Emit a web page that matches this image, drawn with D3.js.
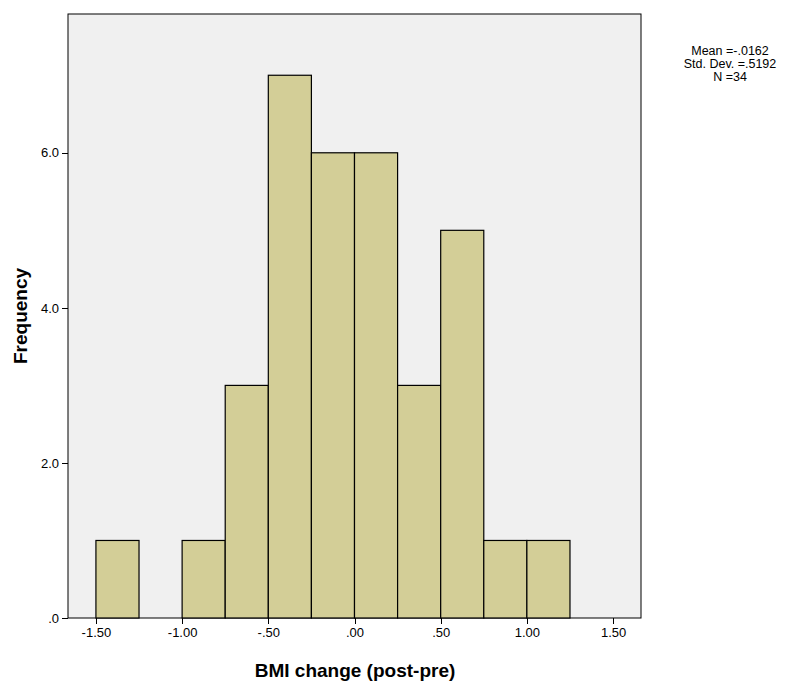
<!DOCTYPE html>
<meta charset="utf-8">
<style>
body { margin: 0; background: #fff; font-family: Arial, "Liberation Sans", sans-serif; }
.axis path, .axis line { fill: none; stroke: #000; shape-rendering: crispEdges; }
.axis text { font-size: 13px; fill: #000; }
</style>
<body>
<script src="https://d3js.org/d3.v7.min.js"></script>
<script>
// bin lower edges and counts
var binStarts = [-1.50, -1.25, -1.00, -0.75, -0.50, -0.25, 0.00, 0.25, 0.50, 0.75, 1.00];
var counts    = [1, 0, 1, 3, 7, 6, 6, 3, 5, 1, 1];
var binWidth = 0.25;
var xTicks = [-1.5, -1.0, -0.5, 0, 0.5, 1.0, 1.5];
var xTickLabels = ["-1.50", "-1.00", "-.50", ".00", ".50", "1.00", "1.50"];
var yTicks = [0, 2, 4, 6];
var yTickLabels = [".0", "2.0", "4.0", "6.0"];
var statsText = ["Mean =-.0162", "Std. Dev. =.5192", "N =34"];

var W = 804, H = 681;
var pL = 68, pR = 641, pT = 14, pB = 618;

var svg = d3.select("body").append("svg").attr("width", W).attr("height", H);

var x = d3.scaleLinear().domain([-1.662, 1.662]).range([pL, pR]);
var y = d3.scaleLinear().domain([0, 7.79]).range([pB, pT]);

svg.append("rect").attr("x", pL).attr("y", pT)
    .attr("width", pR - pL).attr("height", pB - pT)
    .attr("fill", "#f0f0f0").attr("stroke", "#000");

var bins = binStarts.map(function (d, i) { return {x0: d, n: counts[i]}; })
    .filter(function (b) { return b.n > 0; });

svg.selectAll(".bar").data(bins).enter().append("rect")
    .attr("x", function (d) { return x(d.x0); })
    .attr("width", function (d) { return x(d.x0 + binWidth) - x(d.x0); })
    .attr("y", function (d) { return y(d.n); })
    .attr("height", function (d) { return y(0) - y(d.n); })
    .attr("fill", "#d3ce97").attr("stroke", "#000").attr("stroke-width", 1.2);

svg.append("g").attr("class", "axis").attr("transform", "translate(0," + pB + ")")
    .call(d3.axisBottom(x).tickValues(xTicks).tickSize(6).tickPadding(4)
        .tickFormat(function (d, i) { return xTickLabels[i]; }))
    .call(function (g) { g.select(".domain").remove(); });

svg.append("g").attr("class", "axis").attr("transform", "translate(" + pL + ",0)")
    .call(d3.axisLeft(y).tickValues(yTicks).tickSize(6).tickPadding(3)
        .tickFormat(function (d, i) { return yTickLabels[i]; }))
    .call(function (g) { g.select(".domain").remove(); });

svg.append("text").attr("x", 355).attr("y", 677)
    .attr("text-anchor", "middle").attr("font-size", 19).attr("font-weight", "bold")
    .text("BMI change (post-pre)");

svg.append("text").attr("transform", "translate(27," + (pT + pB) / 2 + ") rotate(-90)")
    .attr("text-anchor", "middle").attr("font-size", 19).attr("font-weight", "bold")
    .text("Frequency");

svg.selectAll(".stat").data(statsText).enter().append("text")
    .attr("x", 730).attr("y", function (d, i) { return 55 + i * 13; })
    .attr("text-anchor", "middle").attr("font-size", 12.5).text(function (d) { return d; });
</script>
</body>
